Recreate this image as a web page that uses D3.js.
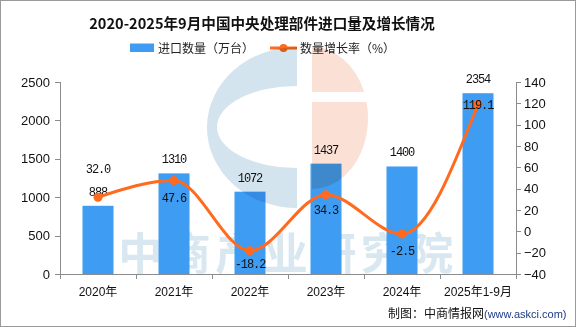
<!DOCTYPE html>
<html><head><meta charset="utf-8">
<script src="https://cdn.jsdelivr.net/npm/d3@7"></script>
<style>
html,body{margin:0;padding:0;background:#fff;}
svg{display:block;}
</style></head>
<body>
<svg id="c" width="576" height="327"></svg>
<script>
const categories = ["2020年","2021年","2022年","2023年","2024年","2025年1-9月"];
const importQty = [888,1310,1072,1437,1400,2354];
const growthRate = [32.0,47.6,-18.2,34.3,-2.5,119.1];
const growthLabelPos = ["above","below","below","below","below","center"];
const leftTicks = [0,500,1000,1500,2000,2500];
const rightTicks = [-40,-20,0,20,40,60,80,100,120,140];
const titleText = "2020-2025年9月中国中央处理部件进口量及增长情况";
const legendNames = ["进口数量（万台）","数量增长率（%）"];

const svg = d3.select("#c");
const W = 576, H = 327;
const m = {left:60, right:516, top:82, bottom:274};
const barColor = "#3e9cf2", lineColor = "#ff6a1e", axisColor = "#8c8c8c";
const labelFont = "'Liberation Mono', monospace";

svg.append("rect").attr("x",0.5).attr("y",0.5).attr("width",W-1).attr("height",H-1)
  .attr("fill","#fff").attr("stroke","#9a9a9a");

const x = d3.scaleBand().domain(categories).range([m.left,m.right]).paddingInner(0).paddingOuter(0);
const bw = 31;
const yL = d3.scaleLinear().domain([0,2500]).range([m.bottom,m.top]);
const yR = d3.scaleLinear().domain([-40,140]).range([m.bottom,m.top]);
const cx = d => x(d)+x.bandwidth()/2;

// title
svg.append("text").attr("x",262).attr("y",29).attr("text-anchor","middle")
  .attr("font-family","'Noto Sans CJK SC'").attr("font-weight","bold").attr("font-size",14.6)
  .attr("fill","#111").text(titleText);

// legend
const lg = svg.append("g").attr("font-family","'Noto Sans CJK SC'").attr("font-size",12).attr("fill","#222");
lg.append("rect").attr("x",130).attr("y",43.5).attr("width",24).attr("height",8.5).attr("fill",barColor);
lg.append("text").attr("x",158).attr("y",52.5).text(legendNames[0]);
lg.append("line").attr("x1",270).attr("x2",297).attr("y1",48).attr("y2",48).attr("stroke",lineColor).attr("stroke-width",3);
lg.append("circle").attr("cx",283.5).attr("cy",48).attr("r",4).attr("fill",lineColor);
lg.append("text").attr("x",300).attr("y",52.5).text(legendNames[1]);

// watermark text (behind bars)
svg.append("text").attr("x",288).attr("y",270).attr("text-anchor","middle")
  .attr("font-family","'Noto Sans CJK SC'").attr("font-weight","bold").attr("font-size",44)
  .attr("letter-spacing",4.5).attr("fill","#d8e7f0").text("中商产业研究院");

// bars
svg.append("g").selectAll("rect").data(importQty).join("rect")
  .attr("x",(d,i)=>cx(categories[i])-bw/2).attr("width",bw)
  .attr("y",d=>yL(d)).attr("height",d=>yL(0)-yL(d)).attr("fill",barColor);

// watermark logo (multiply)
const wm = svg.append("g").style("mix-blend-mode","multiply");
const cX = 297, cY = 127.5;
const cShape = `M${cX},${cY-80.5} A90,80.5 0 0 0 ${cX},${cY+80.5} L${cX},${cY+40.5} A80,41 0 0 1 ${cX},${cY-41.5} Z`;
wm.append("path").attr("d",cShape).attr("fill","#d3e4ee");
const pX = 312, pY = 118;
const pShape = `M${pX},${pY-71} A56,71 0 0 1 ${pX+56},${pY} A56,71 0 0 1 ${pX},${pY+71} Z`;
const defs = svg.append("defs");
const cp = defs.append("clipPath").attr("id","pclip");
cp.append("rect").attr("x",300).attr("y",40).attr("width",100).attr("height",52);
cp.append("rect").attr("x",300).attr("y",102).attr("width",100).attr("height",110);
wm.append("path").attr("d",pShape).attr("fill","#fbe0d6").attr("clip-path","url(#pclip)");

// axes
const ax = svg.append("g").attr("stroke",axisColor).attr("fill","none").attr("shape-rendering","crispEdges");
ax.append("line").attr("x1",m.left).attr("x2",m.left).attr("y1",m.top).attr("y2",m.bottom);
ax.append("line").attr("x1",m.right).attr("x2",m.right).attr("y1",m.top).attr("y2",m.bottom);
ax.append("line").attr("x1",m.left).attr("x2",m.right).attr("y1",m.bottom).attr("y2",m.bottom);
const bounds = categories.map(c=>x(c)).concat([m.right]);
ax.selectAll("line.bt").data(bounds).join("line").attr("class","bt")
  .attr("x1",d=>d).attr("x2",d=>d).attr("y1",m.bottom).attr("y2",m.bottom+5);
ax.selectAll("line.lt").data(leftTicks).join("line").attr("class","lt")
  .attr("x1",m.left-5).attr("x2",m.left).attr("y1",d=>Math.round(yL(d))).attr("y2",d=>Math.round(yL(d)));
ax.selectAll("line.rt").data(rightTicks).join("line").attr("class","rt")
  .attr("x1",m.right).attr("x2",m.right+5).attr("y1",d=>Math.round(yR(d))).attr("y2",d=>Math.round(yR(d)));

const tf = "'Liberation Sans', Arial, sans-serif";
svg.append("g").selectAll("text").data(leftTicks).join("text")
  .attr("x",50).attr("y",d=>yL(d)+4.5).attr("text-anchor","end")
  .attr("font-family",tf).attr("font-size",13).attr("fill","#111").text(d=>d);
svg.append("g").selectAll("text").data(rightTicks).join("text")
  .attr("x",524).attr("y",d=>yR(d)+4.5).attr("text-anchor","start")
  .attr("font-family",tf).attr("font-size",13).attr("fill","#111").text(d=>d<0?"−"+Math.abs(d):d);
svg.append("g").selectAll("text").data(categories).join("text")
  .attr("x",d=>cx(d)).attr("y",296).attr("text-anchor","middle")
  .attr("font-family","'Liberation Sans','Noto Sans CJK SC'").attr("font-size",12).attr("fill","#111").text(d=>d);

// bar labels
svg.append("g").selectAll("text").data(importQty).join("text")
  .attr("x",(d,i)=>cx(categories[i])).attr("y",d=>yL(d)-10)
  .attr("text-anchor","middle").attr("font-family",labelFont).attr("font-size",12)
  .attr("letter-spacing",-1.1).attr("fill","#111").text(d=>d);

// line
const pts = growthRate.map((v,i)=>[cx(categories[i]), yR(v)]);
svg.append("path").attr("d",d3.line().curve(d3.curveMonotoneX)(pts))
  .attr("fill","none").attr("stroke",lineColor).attr("stroke-width",3);
svg.append("g").selectAll("circle").data(pts).join("circle")
  .attr("cx",d=>d[0]).attr("cy",d=>d[1]).attr("r",4.5).attr("fill",lineColor);

const off = {above:-24, below:24, center:4.5};
svg.append("g").selectAll("text").data(growthRate).join("text")
  .attr("x",(d,i)=>pts[i][0]).attr("y",(d,i)=>pts[i][1]+off[growthLabelPos[i]] - (growthLabelPos[i]==="below"? (i===2?7:(i===3?5:3)) : 0))
  .attr("text-anchor","middle").attr("font-family",labelFont).attr("font-size",12)
  .attr("letter-spacing",-1.1).attr("fill","#111").text(d=>d.toFixed(1));

// footer
const ft = svg.append("text").attr("x",388).attr("y",318).attr("font-size",12);
ft.append("tspan").attr("font-family","'Noto Sans CJK SC'").attr("fill","#111").text("制图：中商情报网");
ft.append("tspan").attr("font-family",tf).attr("font-size",11).attr("fill","#1d3b8a").text("(www.askci.com)");
</script>
</body></html>
